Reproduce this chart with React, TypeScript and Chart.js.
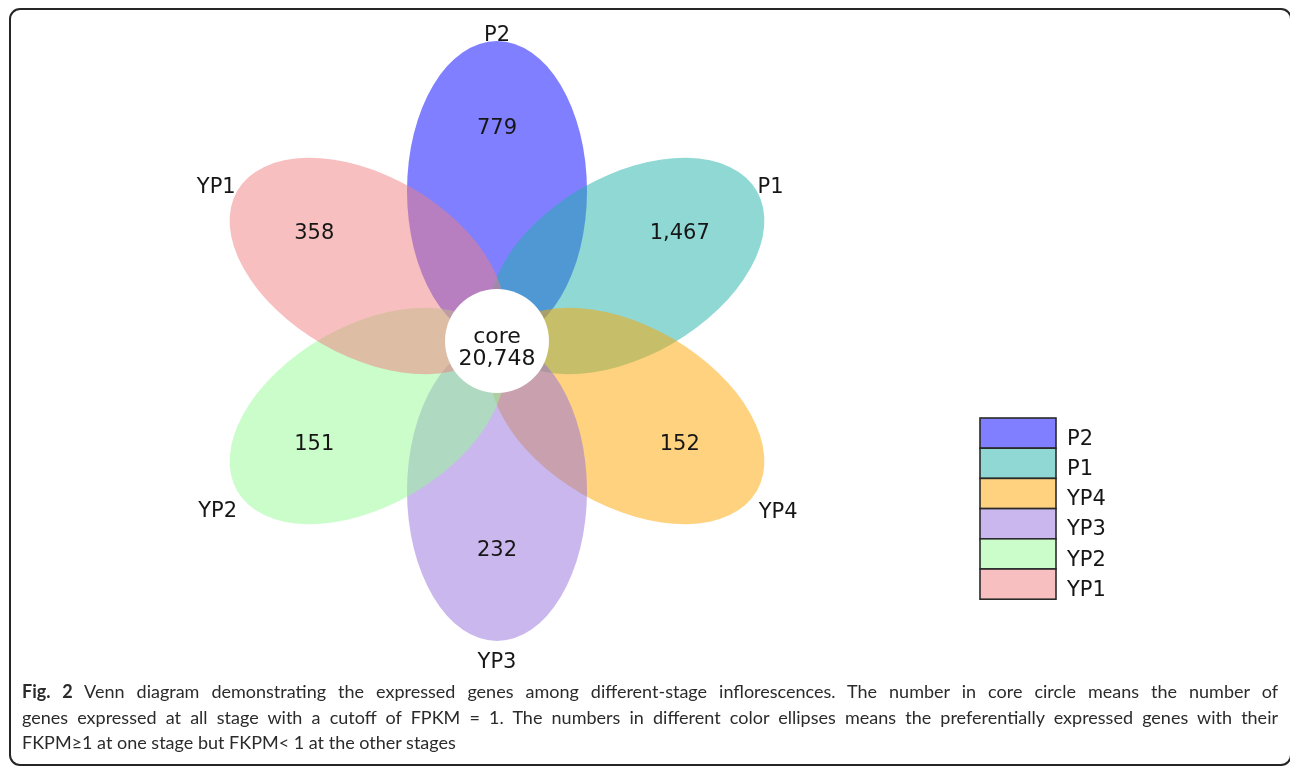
import React, { useEffect, useRef } from "react";
import { Chart, registerables } from "chart.js";

Chart.register(...registerables);

// Six stages, drawn in this order (later petals are painted over earlier ones)
const SETS = ["P2", "P1", "YP4", "YP3", "YP2", "YP1"];
// Genes expressed only in the given stage
const UNIQUE_COUNTS = [779, 1467, 152, 232, 151, 358];
// Genes expressed at every stage
const CORE_COUNT = 20748;
const CORE_LABEL = "core";
const SET_COLORS = ["#0000ff", "#20b2aa", "#ffa500", "#9370db", "#98fb98", "#f08080"];
const FILL_ALPHA = 0.5;

// Petal geometry in plot units (1 unit = 1 px); angles counter-clockwise from +x
const PETAL_ANGLES = [90, 30, -30, -90, -150, 150];
const PETAL_OFFSET = 150;
const PETAL_SEMI_MAJOR = 150;
const PETAL_SEMI_MINOR = 90;
const CORE_RADIUS = 52;
// count labels sit on a ring slightly above the flower centre
const COUNT_RADIUS = 211;
const COUNT_RING_LIFT = 4;
// set names just beyond each petal tip
const NAME_RADIUS = [308, 315, 328, 319, 326, 321];
const NAME_ANGLES = [90, 29.7, -31, -90, -149, 151];

const W = 1290;
const H = 768;
const ORIGIN_X = 497;
const ORIGIN_Y = 341;

const FONT = '"DejaVu Sans", sans-serif';
const TEXT_COLOR = "#161616";
const CAP = 0.729; // cap/digit height of DejaVu Sans, in em

const fmt = (n: number) => n.toLocaleString("en-US");
const rad = (d: number) => (d * Math.PI) / 180;

function rgba(hex: string, a: number) {
  const v = parseInt(hex.slice(1), 16);
  return `rgba(${(v >> 16) & 255},${(v >> 8) & 255},${v & 255},${a})`;
}

// draw text so that its capitals are vertically centred on y
function centredText(ctx: CanvasRenderingContext2D, s: string, x: number, y: number, size: number) {
  ctx.font = `${size}px ${FONT}`;
  ctx.fillText(s, x, y + (CAP * size) / 2);
}

const flowerPlugin = {
  id: "flower",
  beforeDatasetsDraw(chart: any) {
    const { ctx } = chart;
    const xs = chart.scales.x;
    const ys = chart.scales.y;
    const ux = xs.getPixelForValue(1) - xs.getPixelForValue(0);
    ctx.save();
    SETS.forEach((_, i) => {
      const t = rad(PETAL_ANGLES[i]);
      const cx = xs.getPixelForValue(PETAL_OFFSET * Math.cos(t));
      const cy = ys.getPixelForValue(PETAL_OFFSET * Math.sin(t));
      ctx.beginPath();
      ctx.ellipse(cx, cy, PETAL_SEMI_MAJOR * ux, PETAL_SEMI_MINOR * ux, -t, 0, Math.PI * 2);
      ctx.fillStyle = rgba(SET_COLORS[i], FILL_ALPHA);
      ctx.fill();
    });
    // white core disc
    ctx.beginPath();
    ctx.arc(xs.getPixelForValue(0), ys.getPixelForValue(0), CORE_RADIUS * ux, 0, Math.PI * 2);
    ctx.fillStyle = "#ffffff";
    ctx.fill();
    ctx.restore();
  },
  afterDatasetsDraw(chart: any) {
    const { ctx } = chart;
    const xs = chart.scales.x;
    const ys = chart.scales.y;
    ctx.save();
    ctx.fillStyle = TEXT_COLOR;
    ctx.textAlign = "center";
    ctx.textBaseline = "alphabetic";
    // unique counts from the dataset points
    const meta = chart.getDatasetMeta(0);
    meta.data.forEach((pt: any, i: number) => {
      centredText(ctx, fmt(UNIQUE_COUNTS[i]), pt.x, pt.y, 21);
    });
    // set names at petal tips
    SETS.forEach((name, i) => {
      const t = rad(NAME_ANGLES[i]);
      centredText(
        ctx,
        name,
        xs.getPixelForValue(NAME_RADIUS[i] * Math.cos(t)),
        ys.getPixelForValue(NAME_RADIUS[i] * Math.sin(t)),
        21
      );
    });
    // core text
    const ox = xs.getPixelForValue(0);
    const oy = ys.getPixelForValue(0);
    ctx.font = `22px ${FONT}`;
    ctx.fillText(CORE_LABEL, ox, oy + 2);
    ctx.fillText(fmt(CORE_COUNT), ox, oy + 24);

    // legend column
    const lx = 980;
    const ly = 418;
    const lw = 76;
    const lh = 30.2;
    ctx.textAlign = "left";
    SETS.forEach((name, i) => {
      const y = ly + i * lh;
      ctx.fillStyle = "#ffffff";
      ctx.fillRect(lx, y, lw, lh);
      ctx.fillStyle = rgba(SET_COLORS[i], FILL_ALPHA);
      ctx.fillRect(lx, y, lw, lh);
      ctx.lineWidth = 1.6;
      ctx.strokeStyle = "#2a2a2a";
      ctx.strokeRect(lx, y, lw, lh);
      ctx.fillStyle = TEXT_COLOR;
      centredText(ctx, name, lx + lw + 11, y + lh / 2 + 4, 21);
    });
    ctx.restore();
  },
};

function FlowerVenn() {
  const ref = useRef<HTMLCanvasElement | null>(null);
  useEffect(() => {
    if (!ref.current) return;
    const chart = new Chart(ref.current, {
      type: "scatter",
      data: {
        datasets: [
          {
            label: "unique",
            data: SETS.map((_, i) => {
              const t = rad(PETAL_ANGLES[i]);
              return {
                x: COUNT_RADIUS * Math.cos(t),
                y: COUNT_RADIUS * Math.sin(t) + COUNT_RING_LIFT,
              };
            }),
            pointRadius: 0,
            pointHoverRadius: 0,
          },
        ],
      },
      options: {
        responsive: false,
        animation: false,
        devicePixelRatio: 1,
        layout: { padding: 0 },
        events: [],
        plugins: { legend: { display: false }, tooltip: { enabled: false }, title: { display: false } },
        scales: {
          x: { type: "linear", display: false, min: -ORIGIN_X, max: W - ORIGIN_X },
          y: { type: "linear", display: false, min: -(H - ORIGIN_Y), max: ORIGIN_Y },
        },
      },
      plugins: [flowerPlugin],
    });
    return () => chart.destroy();
  }, []);
  return <canvas ref={ref} width={W} height={H} style={{ position: "absolute", left: 0, top: 0 }} />;
}

const captionLine: React.CSSProperties = {
  whiteSpace: "nowrap",
  height: 25.5,
  lineHeight: "25.5px",
};

export default function App() {
  return (
    <div
      style={{
        position: "fixed",
        left: 0,
        top: 0,
        width: W,
        height: H,
        background: "#ffffff",
        overflow: "hidden",
      }}
    >
      <FlowerVenn />
      <div
        style={{
          position: "absolute",
          left: 9,
          top: 8,
          width: 1283,
          height: 758,
          border: "2px solid #262626",
          borderRadius: 11,
          boxSizing: "border-box",
        }}
      />
      <div
        style={{
          position: "absolute",
          left: 22,
          top: 679,
          width: 1256,
          fontFamily: "Lato, sans-serif",
          fontSize: 18,
          color: "#2b2b2b",
        }}
      >
        <div style={{ ...captionLine, textAlign: "justify", textAlignLast: "justify" }}>
          <b>Fig. 2</b> Venn diagram demonstrating the expressed genes among different-stage inflorescences. The number in core circle means the number of
        </div>
        <div style={{ ...captionLine, textAlign: "justify", textAlignLast: "justify" }}>
          genes expressed at all stage with a cutoff of FPKM = 1. The numbers in different color ellipses means the preferentially expressed genes with their
        </div>
        <div style={captionLine}>FKPM≥1 at one stage but FKPM&lt; 1 at the other stages</div>
      </div>
    </div>
  );
}
